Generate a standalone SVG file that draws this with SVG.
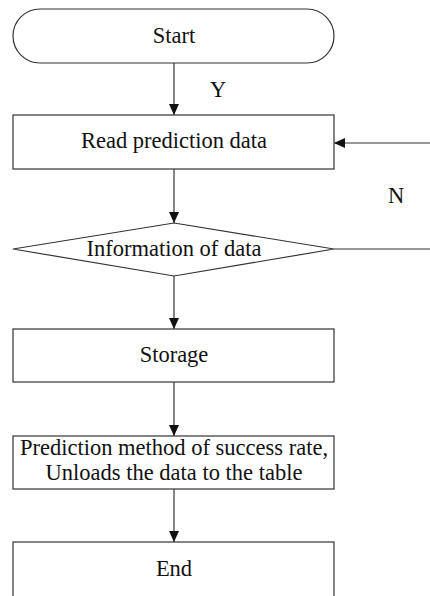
<svg xmlns="http://www.w3.org/2000/svg" width="430" height="596" viewBox="0 0 430 596">
<style>
.box{fill:#fff;stroke:#333;stroke-width:1.2}
.t{font-family:"Liberation Serif","Times New Roman",serif;font-size:22.5px;fill:#111;text-anchor:middle}
.ln{fill:none;stroke:#333;stroke-width:1.2}
</style>
<defs>
<marker id="ah" markerWidth="12" markerHeight="12" refX="11" refY="5" orient="auto" markerUnits="userSpaceOnUse">
<path d="M0,0 L11,5 L0,10 Z" fill="#111"/>
</marker>
</defs>
<rect width="430" height="596" fill="#fff"/>
<g id="connectors">
<line class="ln" x1="174" y1="63" x2="174" y2="115" marker-end="url(#ah)"/>
<line class="ln" x1="174" y1="169" x2="174" y2="223" marker-end="url(#ah)"/>
<line class="ln" x1="174" y1="276" x2="174" y2="329" marker-end="url(#ah)"/>
<line class="ln" x1="174" y1="382" x2="174" y2="436" marker-end="url(#ah)"/>
<line class="ln" x1="174" y1="489" x2="174" y2="542" marker-end="url(#ah)"/>
<line class="ln" x1="334" y1="249" x2="431" y2="249"/>
<line class="ln" x1="431" y1="143" x2="334" y2="143" marker-end="url(#ah)"/>
<text class="t" x="218" y="97">Y</text>
<text class="t" x="396" y="203">N</text>
</g>
<g id="start">
<rect class="box" x="13" y="9" width="321" height="54" rx="27" ry="27"/>
<text class="t" x="174" y="43">Start</text>
</g>
<g id="read">
<rect class="box" x="13" y="115" width="321" height="54"/>
<text class="t" x="174" y="148">Read prediction data</text>
</g>
<g id="decision">
<polygon class="box" points="174,223 334,249 174,276 13,249"/>
<text class="t" x="174" y="256">Information of data</text>
</g>
<g id="storage">
<rect class="box" x="13" y="329" width="321" height="53"/>
<text class="t" x="174" y="362">Storage</text>
</g>
<g id="predict">
<rect class="box" x="13" y="436" width="321" height="53"/>
<text class="t" x="174" y="455">Prediction method of success rate,</text>
<text class="t" x="174" y="480">Unloads the data to the table</text>
</g>
<g id="end">
<rect class="box" x="13" y="542" width="321" height="70"/>
<text class="t" x="174" y="576">End</text>
</g>
</svg>
